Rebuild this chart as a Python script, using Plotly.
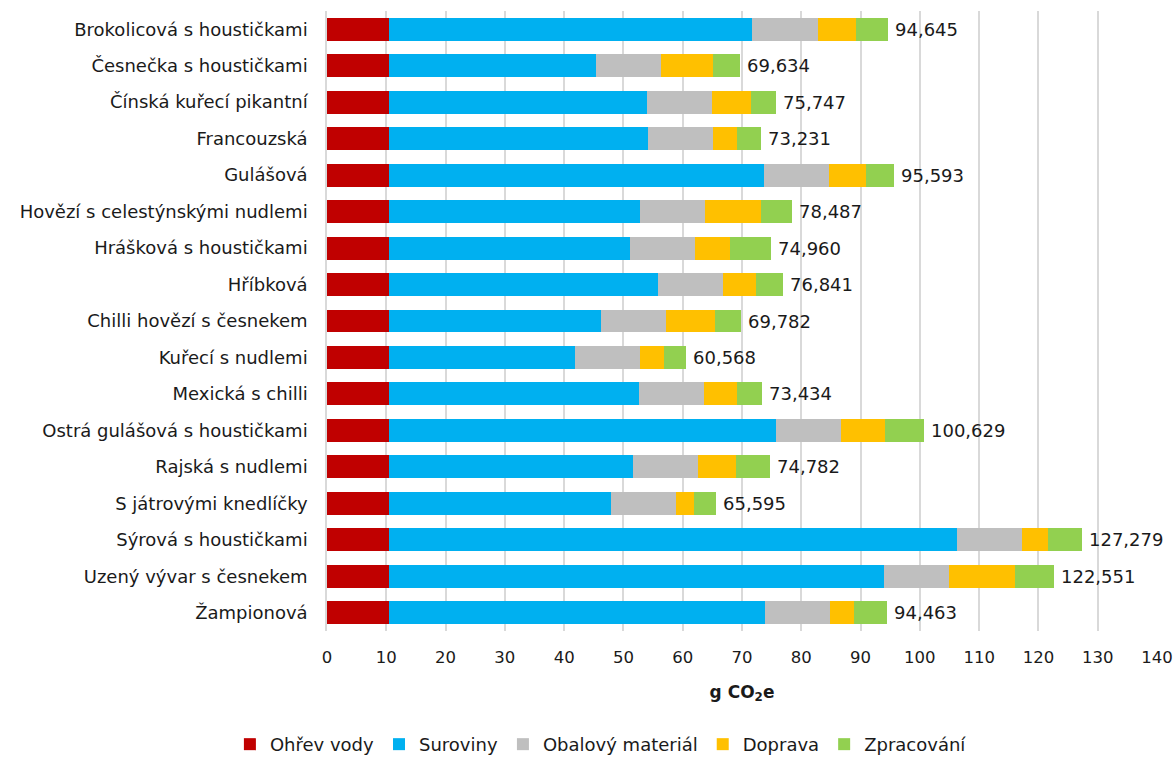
import plotly.graph_objects as go

categories = [
    "Brokolicová s houstičkami", "Česnečka s houstičkami", "Čínská kuřecí pikantní",
    "Francouzská", "Gulášová", "Hovězí s celestýnskými nudlemi", "Hrášková s houstičkami",
    "Hříbková", "Chilli hovězí s česnekem", "Kuřecí s nudlemi", "Mexická s chilli",
    "Ostrá gulášová s houstičkami", "Rajská s nudlemi", "S játrovými knedlíčky",
    "Sýrová s houstičkami", "Uzený vývar s česnekem", "Žampionová",
]
ohrev_vody = [10.54] * 17
suroviny = [61.18, 34.87, 43.49, 43.62, 63.19, 42.32, 40.51, 45.24, 35.72, 31.31,
            42.06, 65.20, 41.02, 37.40, 95.79, 83.39, 63.33]
obalovy_material = [11.02, 10.95, 10.95, 11.00, 10.95, 10.96, 10.95, 11.02, 10.95, 10.95,
                    10.96, 10.89, 11.02, 10.95, 10.93, 10.99, 10.93]
doprava = [6.48, 8.75, 6.61, 4.08, 6.16, 9.46, 5.90, 5.64, 8.30, 4.08,
           5.63, 7.52, 6.48, 3.05, 4.29, 11.11, 4.11]
totals = [94.645, 69.634, 75.747, 73.231, 95.593, 78.487, 74.960, 76.841, 69.782, 60.568,
          73.434, 100.629, 74.782, 65.595, 127.279, 122.551, 94.463]
zpracovani = [round(t - a - b - c - d, 3) for t, a, b, c, d in
              zip(totals, ohrev_vody, suroviny, obalovy_material, doprava)]

series = [
    ("Ohřev vody", ohrev_vody, "#C00000"),
    ("Suroviny", suroviny, "#00B0F0"),
    ("Obalový materiál", obalovy_material, "#BFBFBF"),
    ("Doprava", doprava, "#FFC000"),
    ("Zpracování", zpracovani, "#92D050"),
]

FONT = "DejaVu Sans"
TXT = "#1a1a1a"
fig = go.Figure()
for name, vals, col in series:
    fig.add_trace(go.Bar(
        y=categories, x=vals, name=name, orientation="h",
        marker=dict(color=col, line=dict(width=0)),
        hoverinfo="x+name",
    ))

for cat, t in zip(categories, totals):
    fig.add_annotation(
        x=t, y=cat, xref="x", yref="y",
        text=f"{t:.3f}".replace(".", ","),
        showarrow=False, xanchor="left", yanchor="middle", xshift=5,
        font=dict(family=FONT, size=18, color=TXT),
    )

fig.update_layout(
    barmode="stack",
    bargap=0.37,
    width=1175, height=760,
    margin=dict(l=327, r=18, t=11, b=129, autoexpand=False),
    plot_bgcolor="white", paper_bgcolor="white",
    font=dict(family=FONT, size=17, color=TXT),
    xaxis=dict(
        range=[0, 140], dtick=10, tick0=0,
        showgrid=True, gridcolor="#d9d9d9", gridwidth=1.5,
        zeroline=False, showline=False, ticks="", automargin=False,
        tickfont=dict(family=FONT, size=16.5, color=TXT),
        ticklabelstandoff=14,
        title=dict(text="<b>g CO<sub>2</sub>e</b>", standoff=20,
                   font=dict(family=FONT, size=17, color=TXT)),
    ),
    yaxis=dict(
        autorange="reversed", showgrid=False, ticks="", automargin=False,
        showline=True, linecolor="#d9d9d9", linewidth=1.5,
        tickfont=dict(family=FONT, size=18, color=TXT),
        ticklabelstandoff=14,
    ),
    legend=dict(
        orientation="h", x=0.33, xanchor="center", y=-0.183, yanchor="middle",
        font=dict(family=FONT, size=18, color=TXT),
        traceorder="normal", itemwidth=30,
    ),
)

fig.write_html("out.html")
